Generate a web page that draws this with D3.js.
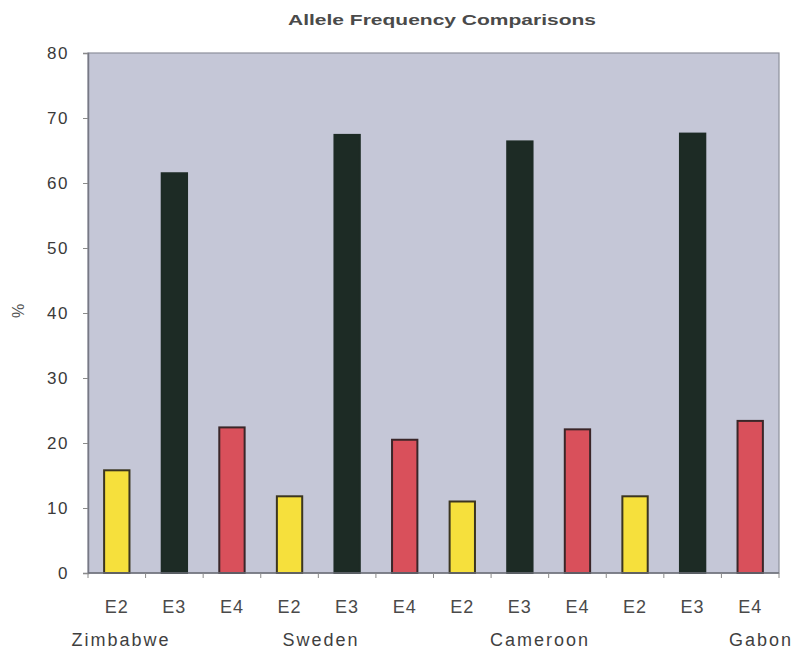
<!DOCTYPE html>
<html>
<head>
<meta charset="utf-8">
<script src="https://cdn.jsdelivr.net/npm/d3@7"></script>
<style>
  html, body { margin: 0; padding: 0; background: #ffffff; }
  svg { display: block; }
  text { font-family: "Liberation Sans", Arial, sans-serif; }
</style>
</head>
<body>
<svg id="chart" width="800" height="656"></svg>
<script>
// ---- data ----
const countries = ["Zimbabwe", "Sweden", "Cameroon", "Gabon"];
const alleles = ["E2", "E3", "E4"];
const e2Values = [15.8, 11.8, 11.0, 11.8];
const e3Values = [61.5, 67.4, 66.4, 67.6];
const e4Values = [22.4, 20.5, 22.1, 23.4];
const yTickValues = [0, 10, 20, 30, 40, 50, 60, 70, 80];
const titleText = "Allele Frequency Comparisons";
const yLabelText = "%";

// ---- layout / style ----
const plot = { left: 88, right: 779, top: 53, bottom: 573 };
const alleleColors = { E2: "#f6e03c", E3: "#1d2b25", E4: "#d9505b" };
const alleleStroke = { E2: "#3b3520", E3: "#1d2b25", E4: "#3a2628" };
const countryLabelX = [121, 321, 540, 761];

const seriesByAllele = { E2: e2Values, E3: e3Values, E4: e4Values };
const bars = [];
countries.forEach((c, ci) => {
  alleles.forEach((a, ai) => {
    bars.push({ key: ci * 3 + ai, country: c, allele: a, value: seriesByAllele[a][ci] });
  });
});

const svg = d3.select("#chart");

const x = d3.scaleBand()
  .domain(bars.map(d => d.key))
  .range([plot.left, plot.right])
  .paddingInner(0.56)
  .paddingOuter(0.28);

const y = d3.scaleLinear().domain([0, 80]).range([plot.bottom, plot.top]);

// plot background
svg.append("rect")
  .attr("x", plot.left).attr("y", plot.top)
  .attr("width", plot.right - plot.left).attr("height", plot.bottom - plot.top)
  .attr("fill", "#c5c7d7")
  .attr("stroke", "#8d8f9c").attr("stroke-width", 1.2);

// title
svg.append("text")
  .attr("x", 442).attr("y", 25)
  .attr("text-anchor", "middle")
  .attr("font-size", 15).attr("font-weight", "bold")
  .attr("fill", "#4a4a4a")
  .attr("textLength", 308).attr("lengthAdjust", "spacingAndGlyphs")
  .text(titleText);

// y axis
const yAxis = d3.axisLeft(y).tickValues(yTickValues).tickSize(5).tickPadding(14);
const yg = svg.append("g").attr("transform", `translate(${plot.left},0)`).call(yAxis);
yg.select(".domain").attr("stroke", "#777985").attr("stroke-width", 1.5);
yg.selectAll(".tick line").attr("stroke", "#8a8a8a");
yg.selectAll(".tick text")
  .attr("font-size", 17).attr("fill", "#3a3a3a")
  .attr("font-family", "'Liberation Sans', Arial, sans-serif")
  .attr("letter-spacing", 1.5);

// y label
svg.append("text")
  .attr("transform", "translate(24,311) rotate(-90)")
  .attr("text-anchor", "middle")
  .attr("font-size", 16).attr("fill", "#555")
  .text(yLabelText);

// bars
svg.append("g").selectAll("rect")
  .data(bars)
  .join("rect")
  .attr("x", d => x(d.key))
  .attr("y", d => y(d.value))
  .attr("width", x.bandwidth())
  .attr("height", d => y(0) - y(d.value))
  .attr("fill", d => alleleColors[d.allele])
  .attr("stroke", d => alleleStroke[d.allele])
  .attr("stroke-width", 2);

// x axis (ticks at band boundaries)
const step = x.step();
const boundaries = d3.range(bars.length + 1).map(i => plot.left + i * step);
const xg = svg.append("g");
xg.append("line")
  .attr("x1", plot.left).attr("x2", plot.right)
  .attr("y1", plot.bottom).attr("y2", plot.bottom)
  .attr("stroke", "#6e707a").attr("stroke-width", 1.5);
xg.selectAll("line.tick")
  .data(boundaries)
  .join("line")
  .attr("class", "tick")
  .attr("x1", d => d).attr("x2", d => d)
  .attr("y1", plot.bottom).attr("y2", plot.bottom + 5)
  .attr("stroke", "#8a8a8a");

// allele labels
svg.append("g").selectAll("text")
  .data(bars)
  .join("text")
  .attr("x", d => x(d.key) + x.bandwidth() / 2)
  .attr("y", 613)
  .attr("text-anchor", "middle")
  .attr("font-size", 18).attr("fill", "#4a4a4a")
  .attr("letter-spacing", 1)
  .text(d => d.allele);

// country labels
svg.append("g").selectAll("text")
  .data(countries)
  .join("text")
  .attr("x", (d, i) => countryLabelX[i])
  .attr("y", 646)
  .attr("text-anchor", "middle")
  .attr("font-size", 18).attr("fill", "#3f3f3f")
  .attr("letter-spacing", 2)
  .text(d => d);
</script>
</body>
</html>
